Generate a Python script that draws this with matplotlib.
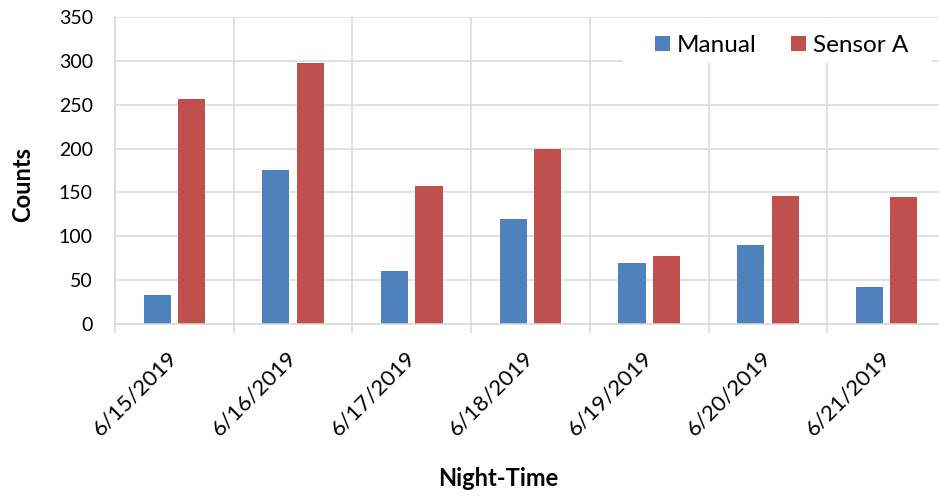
import numpy as np
import matplotlib
matplotlib.use("Agg")
import matplotlib.pyplot as plt
from matplotlib.patches import Rectangle

# Nightly counts per date
dates = ["6/15/2019", "6/16/2019", "6/17/2019", "6/18/2019",
         "6/19/2019", "6/20/2019", "6/21/2019"]
manual = [33, 176, 60, 120, 70, 90, 42]
sensor_a = [257, 298, 157, 200, 78, 146, 145]
series_names = ["Manual", "Sensor A"]
y_ticks = [0, 50, 100, 150, 200, 250, 300, 350]

BLUE = "#4F81BD"
RED = "#C0504D"
GRID = "#D9D9D9"

plt.rcParams["font.family"] = ["Lato", "DejaVu Sans"]

W, H = 939, 496
fig = plt.figure(figsize=(W / 100, H / 100), dpi=100)
ax = fig.add_axes([115 / W, 1 - 324 / H, (946 - 115) / W, (324 - 17) / H])

x = np.arange(len(dates))
bw = 0.228
off = 0.145
ax.bar(x - off, manual, width=bw, color=BLUE, label=series_names[0], zorder=2)
ax.bar(x + off, sensor_a, width=bw, color=RED, label=series_names[1], zorder=2)

ax.set_xlim(-0.5, len(dates) - 0.5)
ax.set_ylim(0, 350)
ax.set_yticks(y_ticks)
ax.set_yticklabels([str(v) for v in y_ticks], fontsize=14, color="#000000")
ax.tick_params(axis="y", length=0, pad=16)

# category labels at centres, separators at boundaries
ax.set_xticks(x)
ax.set_xticklabels(dates, fontsize=16, rotation=45, ha="right", va="center",
                   rotation_mode="anchor")
ax.tick_params(axis="x", which="major", length=0, pad=22)
ax.set_xticks(np.arange(-0.5, len(dates), 1.0), minor=True)
ax.tick_params(axis="x", which="minor", length=6.5, width=1.1, color=GRID)

ax.set_axisbelow(True)
ax.grid(axis="y", which="major", color=GRID, linewidth=1.1)
ax.grid(axis="x", which="minor", color=GRID, linewidth=1.1)
ax.grid(axis="x", which="major", visible=False)

for side in ("top", "right"):
    ax.spines[side].set_visible(False)
for side in ("left", "bottom"):
    ax.spines[side].set_color(GRID)
    ax.spines[side].set_linewidth(1.1)

# white backing behind the legend
ax.add_patch(Rectangle((623 / W, 1 - 63 / H), 309 / W, 45 / H,
                       transform=fig.transFigure, facecolor="white",
                       edgecolor="none", zorder=1.5, clip_on=False))
ax.legend(loc="center", bbox_to_anchor=(781.5 / W, 1 - 45.5 / H),
          bbox_transform=fig.transFigure, ncol=2, frameon=False,
          fontsize=17.5, handlelength=0.62, handleheight=0.62,
          handletextpad=0.3, columnspacing=1.4, borderpad=0)

fig.text(22.5 / W, 1 - 185 / H, "Counts", rotation=90, ha="center",
         va="center", fontsize=17, fontweight="bold")
fig.text(498 / W, 1 - 478 / H, "Night-Time", ha="center", va="center",
         fontsize=17, fontweight="bold")

fig.savefig("out.png", dpi=100, facecolor="white")
